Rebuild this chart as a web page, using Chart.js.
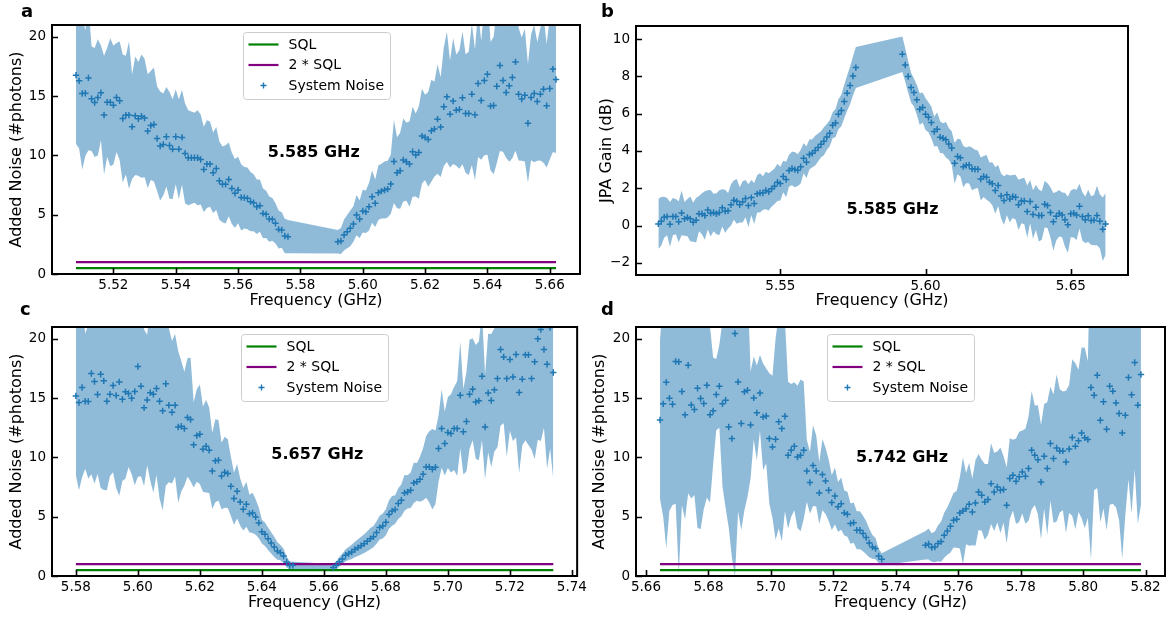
<!DOCTYPE html>
<html>
<head>
<meta charset="utf-8">
<script src="https://cdn.jsdelivr.net/npm/chart.js@4.4.1/dist/chart.umd.min.js"></script>
<style>
  body { margin: 0; background: #fff; width: 1171px; height: 619px; position: relative; overflow: hidden; }
  .panel { position: absolute; }
  .tag { position: absolute; font: bold 18px "DejaVu Sans"; line-height: 18px; color: #000; }
</style>
</head>
<body>
<div class="panel" style="left:0;top:0"><canvas id="chartA" width="590" height="310"></canvas></div>
<div class="panel" style="left:590px;top:0"><canvas id="chartB" width="581" height="310"></canvas></div>
<div class="panel" style="left:0;top:306px"><canvas id="chartC" width="590" height="306"></canvas></div>
<div class="panel" style="left:590px;top:306px"><canvas id="chartD" width="581" height="306"></canvas></div>
<div class="tag" style="left:21px;top:2px">a</div>
<div class="tag" style="left:601px;top:2px">b</div>
<div class="tag" style="left:20px;top:300px">c</div>
<div class="tag" style="left:601px;top:300px">d</div>

<script>
// frequency sweep: 1 MHz steps, 155 points per trace (null = no point)
const FREQ_STEP = 0.001;
const SWEEP_LEN = 155;

const BLUE = '#1f77b4';
const BAND = 'rgba(31,119,180,0.5)';
const SQL_COLOR = '#008000';
const TWO_SQL_COLOR = '#800080';
const sqlLevel = 0.5;
const twoSqlLevel = 1.0;

// ---- panel a : added noise, pump 5.585 GHz ----
const aFreqStart = 5.508;
const aNoise = [
  16.77,16.29,15.22,15.25,16.54,14.78,14.47,14.89,15.28,13.40,
  14.49,14.49,14.24,14.89,14.61,13.12,13.40,13.40,12.42,13.34,
  13.09,13.31,13.15,12.05,12.53,12.61,11.43,10.79,10.93,11.57,
  10.84,10.53,11.57,10.53,11.52,10.17,9.80,9.80,9.80,9.80,
  9.66,8.82,9.27,9.27,8.54,8.90,7.87,7.56,7.56,7.98,
  7.22,6.80,7.08,6.46,6.43,6.38,6.10,6.01,5.67,5.76,
  5.11,5.03,4.63,4.61,4.27,3.76,3.71,3.20,3.15,
  null,null,null,null,null,null,null,null,null,null,null,null,null,null,null,
  2.72,2.78,3.29,3.57,3.85,4.21,4.97,4.63,5.31,5.25,
  5.67,6.52,5.96,6.85,6.99,7.08,7.16,7.58,9.49,8.54,
  8.71,9.61,9.47,9.27,10.31,10.03,10.25,11.63,11.52,11.35,
  12.08,12.22,13.06,12.39,14.10,14.94,13.48,14.58,13.82,13.88,
  14.86,13.54,13.54,15.17,13.43,16.07,14.63,16.32,16.85,14.16,
  14.21,15.84,17.58,16.32,15.31,15.87,16.57,17.89,15.17,14.75,
  15.08,12.72,14.89,15.22,14.55,15.17,15.59,14.19,15.65,17.28,
  16.40
];
const aErr = [
  5.8,5.7,6.4,5.3,6.1,4.4,4.6,4.9,4.0,5.0,
  4.6,5.4,5.0,4.6,5.0,5.4,5.0,6.2,4.4,5.0,
  4.8,5.2,5.0,4.8,4.6,4.8,4.4,4.6,4.3,4.2,
  4.5,4.2,4.0,4.2,4.0,4.2,4.0,3.9,3.8,4.0,
  3.8,3.6,3.7,3.6,3.4,3.5,3.3,3.2,3.3,3.1,
  3.0,2.9,2.8,2.8,2.6,2.6,2.5,2.4,2.3,2.2,
  2.1,2.0,1.9,1.8,1.7,1.6,1.5,1.45,1.4,
  null,null,null,null,null,null,null,null,null,null,null,null,null,null,null,
  1.0,1.1,1.3,1.4,1.5,1.5,1.7,1.6,1.8,1.8,
  2.0,2.2,2.0,2.3,2.3,2.4,2.4,2.5,3.5,3.0,
  3.2,3.5,3.3,3.6,3.8,3.5,3.9,4.0,3.6,4.0,
  4.3,4.0,4.6,4.2,5.0,5.5,4.5,5.3,4.7,5.0,
  5.6,5.0,5.2,6.0,5.5,6.2,5.0,6.3,6.8,5.4,
  5.8,6.5,7.2,6.0,5.5,6.4,6.8,7.5,5.6,5.2,
  5.6,5.0,5.3,5.8,5.0,5.6,6.2,5.2,6.0,7.0,
  6.2
];

// ---- panel b : JPA gain, pump 5.585 GHz ----
const bFreqStart = 5.508;
const bGain = [
  0.09,0.23,0.45,0.48,0.07,0.48,0.48,0.21,0.68,0.36,
  0.43,0.36,0.18,0.29,0.64,0.63,0.54,0.84,0.66,0.70,
  0.63,0.70,0.95,0.77,0.79,1.11,1.36,1.30,1.11,1.27,
  1.45,1.07,1.50,1.18,1.70,1.75,1.75,1.88,1.81,1.97,
  2.11,2.32,2.25,2.63,2.47,2.95,3.06,3.00,2.97,3.16,
  3.61,3.40,3.81,3.88,4.02,4.18,4.36,4.52,4.75,4.95,
  5.38,5.50,5.97,6.17,6.65,7.10,7.51,8.02,8.47,
  null,null,null,null,null,null,null,null,null,null,null,null,null,null,null,
  9.19,8.61,7.99,7.40,7.13,6.74,6.24,6.33,5.97,5.81,
  5.52,5.04,5.17,4.74,4.68,4.60,4.38,4.16,3.34,3.70,
  3.63,3.16,3.23,3.25,3.04,3.02,3.02,2.50,2.63,2.59,
  2.33,2.24,1.88,2.15,1.59,1.34,1.65,1.43,1.56,1.52,
  1.11,1.32,1.32,0.75,1.29,0.59,0.98,0.54,0.54,1.14,
  1.07,0.70,0.20,0.50,0.66,0.57,0.31,0.04,0.63,0.66,
  0.57,1.04,0.48,0.31,0.52,0.27,0.29,0.54,0.23,-0.20,
  0.09
];
const bErr = [
  1.35,1.3,1.1,1.0,1.2,1.0,0.95,1.1,1.2,0.9,
  1.0,1.2,1.05,1.2,0.95,1.1,1.3,1.05,1.25,1.0,
  1.1,1.2,1.0,1.15,0.95,1.1,1.05,1.2,0.95,1.1,
  1.0,1.15,0.95,1.1,1.0,1.05,0.9,1.0,1.0,0.95,
  0.95,1.0,0.9,0.85,0.95,0.85,0.9,0.95,0.85,0.9,
  0.8,0.85,0.8,0.75,0.8,0.75,0.7,0.75,0.7,0.7,
  0.7,0.75,0.8,0.85,0.9,0.95,1.0,1.05,1.1,
  null,null,null,null,null,null,null,null,null,null,null,null,null,null,null,
  0.95,0.9,0.85,0.8,0.75,0.8,0.85,0.8,0.85,0.8,
  0.85,0.8,0.9,0.85,0.8,0.95,0.85,0.9,1.1,0.95,
  1.0,1.1,0.95,1.0,1.15,1.05,1.0,1.15,1.1,1.2,
  1.05,1.15,1.25,1.1,1.2,1.3,1.1,1.25,1.15,1.2,
  1.35,1.2,1.25,1.4,1.15,1.3,1.2,1.4,1.3,1.25,
  1.2,1.35,1.55,1.3,1.25,1.2,1.45,1.5,1.25,1.3,
  1.35,1.2,1.3,1.25,1.4,1.3,1.35,1.6,1.45,1.7,
  1.65
];

// ---- panel c : added noise, pump 5.657 GHz ----
const cFreqStart = 5.580;
const cNoise = [
  15.19,14.63,15.90,14.74,14.72,17.08,16.40,15.31,17.02,16.46,
  14.74,15.33,16.06,15.22,16.37,14.91,15.53,15.39,14.99,15.56,
  17.67,16.01,14.18,14.85,15.45,15.33,15.81,14.74,13.93,16.21,
  14.40,13.81,14.40,12.57,12.63,12.43,13.36,13.20,11.06,11.84,
  11.96,10.70,10.94,10.61,8.86,9.71,9.76,8.44,8.75,8.64,
  7.57,6.53,7.15,6.25,5.63,6.05,5.26,5.32,4.98,4.48,
  3.74,3.52,3.15,2.79,2.45,2.11,1.97,1.69,1.18,0.88,
  0.90,
  null,null,null,null,null,null,null,null,null,null,null,null,
  0.71,0.90,1.21,1.44,1.75,1.89,2.03,2.23,2.39,2.56,
  2.73,2.93,3.15,3.32,3.66,4.08,4.22,4.53,5.18,5.49,
  5.60,6.11,6.39,7.01,7.09,7.23,7.85,7.94,8.16,8.58,
  9.20,9.20,9.00,9.17,10.75,12.43,11.17,12.10,12.02,12.43,
  12.43,15.25,12.16,13.03,15.33,15.75,14.68,14.77,16.85,12.57,
  15.44,14.80,15.70,16.65,19.10,18.48,16.65,18.26,16.79,18.68,
  15.47,16.60,18.65,18.65,16.65,18.06,20.00,20.79,19.10,17.86,
  20.96,17.16
];
const cErr = [
  6.7,7.4,7.6,5.7,6.5,8.5,8.6,6.7,9.6,9.2,
  7.5,6.9,7.3,7.8,9.6,6.9,7.3,6.2,6.4,7.9,
  9.3,7.6,6.6,5.5,7.4,8.3,7.3,8.2,8.4,8.6,
  6.5,6.0,6.0,6.4,5.5,4.8,5.0,5.2,3.6,3.9,
  4.2,3.6,3.9,3.6,3.2,3.5,3.4,2.8,3.0,2.9,
  2.5,2.2,2.3,2.0,1.8,1.9,1.6,1.7,1.5,1.3,
  1.0,1.0,0.95,0.9,0.85,0.75,0.65,0.6,0.45,0.35,
  0.3,
  null,null,null,null,null,null,null,null,null,null,null,null,
  0.3,0.35,0.4,0.45,0.5,0.55,0.6,0.65,0.7,0.75,
  0.8,0.85,0.9,0.9,0.95,1.0,1.05,1.1,1.2,1.25,
  1.2,1.3,1.35,1.5,1.4,1.5,1.7,1.6,1.9,2.2,
  2.6,3.0,3.4,3.1,2.8,3.3,2.7,3.0,3.3,3.5,
  4.0,4.5,3.6,4.2,4.6,4.3,4.8,5.0,5.4,4.4,
  5.0,5.6,5.2,5.8,6.4,5.6,6.6,6.0,5.4,7.0,
  6.8,5.6,7.2,7.6,6.0,8.2,8.5,9.4,6.6,8.8,
  10.2,9.0
];

// ---- panel d : added noise, pump 5.742 GHz ----
const dFreqStart = 5.6645;
const dNoise = [
  13.16,14.52,16.34,15.00,14.49,18.09,18.06,15.56,13.59,17.78,
  14.43,14.04,15.84,14.97,14.54,16.09,13.59,13.93,15.30,16.01,
  14.52,14.83,12.57,11.59,20.45,16.37,12.86,15.53,15.67,12.74,
  15.02,13.76,15.44,13.42,13.50,11.59,10.89,11.53,13.00,12.43,
  13.47,10.18,10.60,10.94,10.04,10.18,10.60,8.86,7.88,9.31,
  8.86,7.01,8.55,8.02,7.23,6.19,6.75,5.83,6.10,5.32,
  5.21,4.42,4.50,3.86,3.86,3.58,3.24,2.79,2.45,2.31,
  1.69,1.41,
  null,null,null,null,null,null,null,null,null,null,null,null,null,
  2.60,2.70,2.40,2.45,2.75,2.90,3.43,3.80,4.19,4.70,
  4.78,5.32,5.49,5.68,6.05,5.40,6.16,7.09,6.81,6.25,
  6.45,7.79,7.09,7.51,7.23,7.29,5.97,8.22,8.50,7.99,
  8.36,8.78,8.41,9.06,10.60,10.18,9.81,7.93,10.10,9.06,
  11.17,9.90,10.80,10.55,10.55,9.62,10.71,11.68,10.95,11.40,
  12.07,11.65,11.51,15.90,15.24,16.93,13.14,14.69,12.38,16.01,
  15.59,14.60,13.70,12.07,13.56,16.74,15.28,18.00,14.41,16.99
];
const dErr = [
  6.7,9.5,14.0,9.5,8.5,12.0,17.9,9.6,8.8,10.8,
  7.9,7.2,11.8,11.0,8.9,9.5,7.4,4.5,3.0,3.5,
  7.0,9.1,8.5,10.0,20.5,10.9,9.0,10.0,9.0,4.5,
  3.5,4.0,3.2,4.5,4.0,5.5,6.0,8.5,9.0,9.5,
  8.0,6.2,5.6,5.4,6.0,6.4,5.8,2.6,2.6,3.4,
  3.0,2.6,3.0,2.8,2.6,2.3,2.4,2.1,2.2,1.9,
  1.9,1.7,1.7,1.6,1.6,1.5,1.4,1.2,1.0,0.9,
  0.6,0.5,
  null,null,null,null,null,null,null,null,null,null,null,null,null,
  1.2,1.3,1.2,1.3,1.5,1.7,1.9,2.0,2.2,2.3,
  2.4,3.0,4.5,3.0,3.5,2.8,3.6,3.2,3.0,3.2,
  3.0,3.4,3.3,3.0,3.6,2.8,3.2,3.4,3.0,3.6,
  3.8,3.5,4.0,4.4,5.0,4.2,4.6,4.8,4.4,5.6,
  4.8,5.4,6.2,5.2,5.0,6.0,5.4,6.6,7.0,6.0,
  7.2,7.6,6.6,14.5,8.0,9.5,8.6,9.0,8.5,10.0,
  9.5,8.8,9.0,10.6,8.4,8.6,10.0,9.0,10.0,11.0
];

// tick labels
const aXTicks = [5.52, 5.54, 5.56, 5.58, 5.60, 5.62, 5.64, 5.66];
const bXTicks = [5.55, 5.60, 5.65];
const cXTicks = [5.58, 5.60, 5.62, 5.64, 5.66, 5.68, 5.70, 5.72, 5.74];
const dXTicks = [5.66, 5.68, 5.70, 5.72, 5.74, 5.76, 5.78, 5.80, 5.82];
const noiseYTicks = [0, 5, 10, 15, 20];
const gainYTicks = [-2, 0, 2, 4, 6, 8, 10];

const legendLabels = ['SQL', '2 * SQL', 'System Noise'];

Chart.defaults.font.family = '"DejaVu Sans"';
Chart.defaults.color = '#000';

// turn a trace into {x,y} points, skipping the missing ones
function sweep(start, values) {
  if (values.length !== SWEEP_LEN) throw new Error('trace length ' + values.length);
  const out = [];
  values.forEach((v, i) => {
    if (v !== null) out.push({ x: +(start + i * FREQ_STEP).toFixed(4), y: v });
  });
  return out;
}

function band(start, values, err, sign) {
  return sweep(start, values.map((v, i) => v === null ? null : v + sign * err[i]));
}

// frame, inward ticks, legend and the pump label
const framePlugin = {
  id: 'frame',
  afterDraw(chart, args, opts) {
    const { ctx, chartArea: a } = chart;
    const xs = chart.scales.x, ys = chart.scales.y;
    ctx.save();
    ctx.strokeStyle = '#000';
    ctx.lineWidth = 1.6;
    ctx.beginPath();
    xs.ticks.forEach(t => {
      const px = Math.round(xs.getPixelForValue(t.value)) + 0.5;
      ctx.moveTo(px, a.bottom); ctx.lineTo(px, a.bottom - 6);
    });
    ys.ticks.forEach(t => {
      const py = Math.round(ys.getPixelForValue(t.value)) + 0.5;
      ctx.moveTo(a.left, py); ctx.lineTo(a.left + 6, py);
    });
    ctx.stroke();
    ctx.lineWidth = 2;
    ctx.strokeRect(a.left, a.top, a.right - a.left, a.bottom - a.top);

    // pump frequency label
    ctx.fillStyle = '#000';
    ctx.font = 'bold 16px "DejaVu Sans"';
    ctx.textAlign = 'center';
    ctx.textBaseline = 'middle';
    ctx.fillText(opts.note, xs.getPixelForValue(opts.noteAt[0]), ys.getPixelForValue(opts.noteAt[1]));

    if (opts.legend) {
      const w = 147, h = 67;
      const bx = Math.round((a.left + a.right) / 2 - w / 2) + 0.5;
      const by = a.top + 7.5;
      ctx.beginPath();
      if (ctx.roundRect) ctx.roundRect(bx, by, w, h, 3); else ctx.rect(bx, by, w, h);
      ctx.fillStyle = 'rgba(255,255,255,0.8)';
      ctx.fill();
      ctx.strokeStyle = '#cccccc';
      ctx.lineWidth = 1;
      ctx.stroke();
      const rows = [by + 12, by + 32.5, by + 53];
      ctx.lineWidth = 2.2;
      ctx.strokeStyle = SQL_COLOR;
      ctx.beginPath(); ctx.moveTo(bx + 5, rows[0]); ctx.lineTo(bx + 35, rows[0]); ctx.stroke();
      ctx.strokeStyle = TWO_SQL_COLOR;
      ctx.beginPath(); ctx.moveTo(bx + 5, rows[1]); ctx.lineTo(bx + 35, rows[1]); ctx.stroke();
      ctx.strokeStyle = BLUE;
      ctx.lineWidth = 1.4;
      ctx.beginPath();
      ctx.moveTo(bx + 17, rows[2]); ctx.lineTo(bx + 23, rows[2]);
      ctx.moveTo(bx + 20, rows[2] - 3); ctx.lineTo(bx + 20, rows[2] + 3);
      ctx.stroke();
      ctx.fillStyle = '#000';
      ctx.font = '14px "DejaVu Sans"';
      ctx.textAlign = 'left';
      legendLabels.forEach((t, i) => ctx.fillText(t, bx + 45, rows[i] + 0.5));
    }
    ctx.restore();
  }
};

function makePanel(id, p) {
  const pts = sweep(p.start, p.values);
  const datasets = [{
    type: 'scatter', data: pts, order: 0,
    pointStyle: 'cross', pointRadius: 3.2, borderWidth: 1.5,
    borderColor: BLUE, backgroundColor: BLUE
  }];
  if (p.sql) {
    const x0 = pts[0].x, x1 = pts[pts.length - 1].x;
    datasets.push({
      type: 'line', showLine: true, order: 1, data: [{ x: x0, y: sqlLevel }, { x: x1, y: sqlLevel }],
      borderColor: SQL_COLOR, borderWidth: 2.2, pointRadius: 0
    }, {
      type: 'line', showLine: true, order: 1, data: [{ x: x0, y: twoSqlLevel }, { x: x1, y: twoSqlLevel }],
      borderColor: TWO_SQL_COLOR, borderWidth: 2.2, pointRadius: 0
    });
  }
  datasets.push({
    type: 'line', showLine: true, order: 2, data: band(p.start, p.values, p.err, 1),
    borderWidth: 0, pointRadius: 0, tension: 0, fill: '+1', backgroundColor: BAND, borderColor: 'rgba(0,0,0,0)'
  }, {
    type: 'line', showLine: true, order: 2, data: band(p.start, p.values, p.err, -1),
    borderWidth: 0, pointRadius: 0, tension: 0, fill: false, borderColor: 'rgba(0,0,0,0)'
  });

  new Chart(document.getElementById(id), {
    type: 'scatter',
    data: { datasets },
    plugins: [framePlugin],
    options: {
      responsive: false,
      animation: false,
      events: [],
      devicePixelRatio: 1,
      layout: { padding: p.pad },
      plugins: {
        legend: { display: false },
        tooltip: { enabled: false },
        frame: { note: p.note, noteAt: p.noteAt, legend: p.sql }
      },
      scales: {
        x: {
          type: 'linear', min: p.xRange[0], max: p.xRange[1],
          afterBuildTicks: s => { s.ticks = p.xTicks.map(v => ({ value: v })); },
          afterFit: s => { s.height = p.xH; },
          grid: { display: false, drawTicks: false },
          border: { display: false },
          ticks: { font: { size: 13.5 }, padding: 3, maxRotation: 0, autoSkip: false,
                   callback: v => v.toFixed(2) },
          title: { display: true, text: 'Frequency (GHz)', font: { size: 16 }, padding: 0 }
        },
        y: {
          type: 'linear', min: p.yRange[0], max: p.yRange[1],
          afterBuildTicks: s => { s.ticks = p.yTicks.map(v => ({ value: v })); },
          afterFit: s => { s.width = p.yW; },
          grid: { display: false, drawTicks: false },
          border: { display: false },
          ticks: { font: { size: 13.5 }, padding: 6,
                   callback: v => v < 0 ? '\u2212' + Math.abs(v) : String(v) },
          title: { display: true, text: p.yTitle, font: { size: 16 }, padding: { top: p.yTitlePad, bottom: 0 } }
        }
      }
    }
  });
}

makePanel('chartA', {
  start: aFreqStart, values: aNoise, err: aErr, sql: true,
  xRange: [5.5003, 5.6697], yRange: [0, 21], xTicks: aXTicks, yTicks: noiseYTicks,
  yTitle: 'Added Noise (#photons)', note: '5.585 GHz', noteAt: [5.5843, 10.24],
  pad: { left: 0, top: 25, right: 10, bottom: 0 }, yW: 52, xH: 36, yTitlePad: 7.4
});
makePanel('chartB', {
  start: bFreqStart, values: bGain, err: bErr, sql: false,
  xRange: [5.5003, 5.6697], yRange: [-2.65, 10.7], xTicks: bXTicks, yTicks: gainYTicks,
  yTitle: 'JPA Gain (dB)', note: '5.585 GHz', noteAt: [5.5886, 0.84],
  pad: { left: 0, top: 26, right: 43, bottom: 0 }, yW: 46, xH: 35, yTitlePad: 7.4
});
makePanel('chartC', {
  start: cFreqStart, values: cNoise, err: cErr, sql: true,
  xRange: [5.5723, 5.7417], yRange: [0, 21], xTicks: cXTicks, yTicks: noiseYTicks,
  yTitle: 'Added Noise (#photons)', note: '5.657 GHz', noteAt: [5.6579, 10.2],
  pad: { left: 0, top: 21, right: 10, bottom: 0 }, yW: 52, xH: 36, yTitlePad: 7.4
});
makePanel('chartD', {
  start: dFreqStart, values: dNoise, err: dErr, sql: true,
  xRange: [5.6568, 5.8262], yRange: [0, 21], xTicks: dXTicks, yTicks: noiseYTicks,
  yTitle: 'Added Noise (#photons)', note: '5.742 GHz', noteAt: [5.742, 10.0],
  pad: { left: 0, top: 21, right: 6, bottom: 0 }, yW: 46, xH: 36, yTitlePad: 0.4
});
</script>
</body>
</html>
